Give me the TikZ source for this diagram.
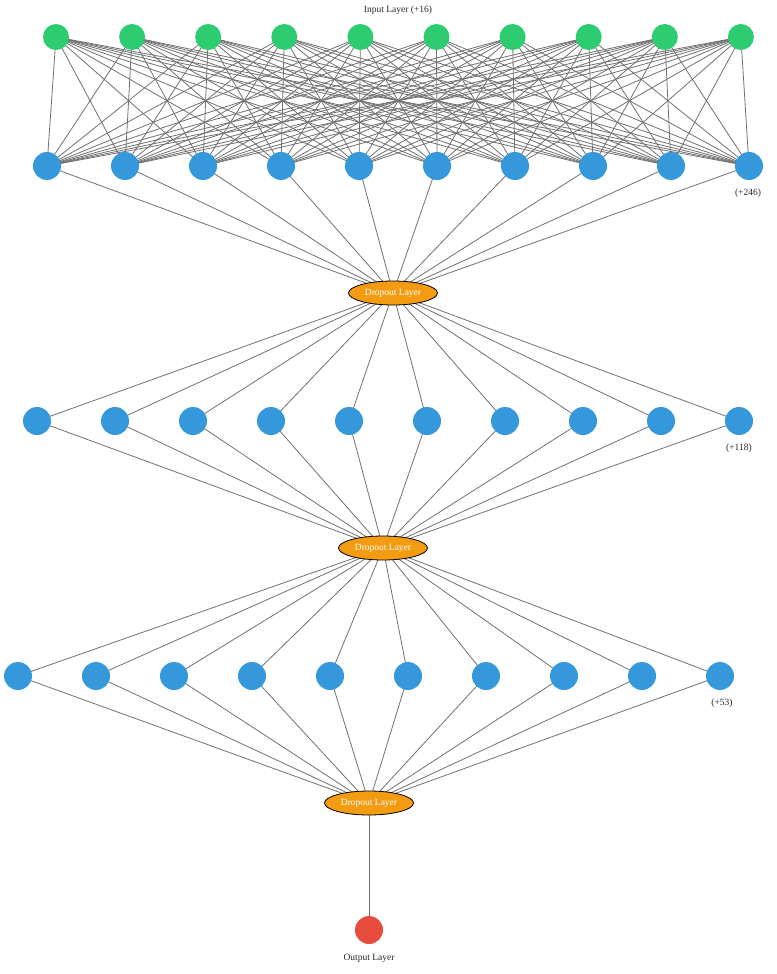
\documentclass[tikz,border=0pt]{standalone}
\usepackage{fontspec}
\usetikzlibrary{shapes.geometric}
\setmainfont{Liberation Serif}
\definecolor{ingreen}{HTML}{2ECC71}
\definecolor{hblue}{HTML}{3498DB}
\definecolor{dorange}{HTML}{F39C12}
\definecolor{ored}{HTML}{E74C3C}
\definecolor{edgegray}{HTML}{707070}
\begin{document}
\begin{tikzpicture}[x=1pt,y=-1pt,
  innode/.style={circle,fill=ingreen,draw=none,inner sep=0pt,minimum size=26pt},
  hid/.style={circle,fill=hblue,draw=none,inner sep=0pt,minimum size=28pt},
  outn/.style={circle,fill=ored,draw=none,inner sep=0pt,minimum size=28pt},
  drop/.style={ellipse,fill=dorange,draw=black,line width=0.8pt,inner sep=0pt,minimum width=89pt,minimum height=24pt,text=white,font=\fontsize{9.5}{10}\selectfont},
  edge/.style={draw=edgegray,line width=0.8pt},
  lbl/.style={font=\fontsize{9.5}{10}\selectfont,text=black!85}]
\useasboundingbox (0,0) rectangle (776,974);
\pgfdeclarelayer{bg}\pgfsetlayers{bg,main}
% nodes
\foreach \i in {0,...,9} {
  \node[innode] (a\i) at ({56+76.1*\i},37) {};
  \node[hid] (b\i) at ({47+78*\i},166) {};
  \node[hid] (c\i) at ({37+78*\i},421) {};
  \node[hid] (d\i) at ({18+78*\i},676) {};
}
\node[drop] (p1) at (393,293) {Dropout Layer};
\node[drop] (p2) at (383,548) {Dropout Layer};
\node[drop] (p3) at (369,803) {Dropout Layer};
\node[outn] (o) at (369,930) {};
\node[lbl] (tin) at (398,10) {Input Layer (+16)};
\node[lbl] (t1) at (748,193) {(+246)};
\node[lbl] (t2) at (739,448) {(+118)};
\node[lbl] (t3) at (722,703) {(+53)};
\node[lbl] (tout) at (369,958) {Output Layer};
% edges
\begin{pgfonlayer}{bg}
\foreach \i in {0,...,9} {
  \foreach \j in {0,...,9} {
    \draw[edge] (a\i.center) -- (b\j.center);
  }
  \draw[edge] (b\i.center) -- (p1.center);
  \draw[edge] (p1.center) -- (c\i.center);
  \draw[edge] (c\i.center) -- (p2.center);
  \draw[edge] (p2.center) -- (d\i.center);
  \draw[edge] (d\i.center) -- (p3.center);
}
\draw[edge] (p3.center) -- (o.center);
\end{pgfonlayer}
\end{tikzpicture}
\end{document}
